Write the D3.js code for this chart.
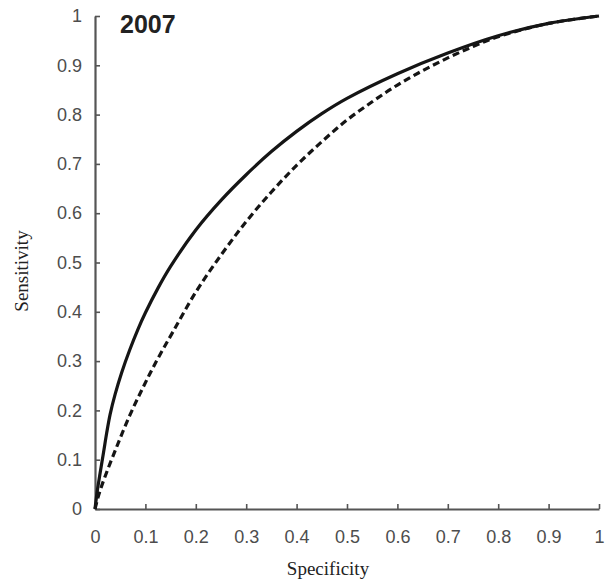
<!DOCTYPE html>
<html lang="en">
<head>
  <meta charset="UTF-8">
  <title>ROC 2007</title>
  <style>
    body { margin: 0; background: #fff; }
    .tick text { font-family: "Liberation Sans", Arial, sans-serif; font-size: 18px; fill: #4d4d4d; }
    .axis-title { font-family: "Liberation Serif", "Times New Roman", serif; font-size: 19px; fill: #222; }
  </style>
</head>
<body>
<div id="chart"></div>
<script src="https://d3js.org/d3.v7.min.js"></script>
<script>
  // tick values and labels
  var tickValues = [0, 0.1, 0.2, 0.3, 0.4, 0.5, 0.6, 0.7, 0.8, 0.9, 1];
  var tickLabels = ["0", "0.1", "0.2", "0.3", "0.4", "0.5", "0.6", "0.7", "0.8", "0.9", "1"];

  // solid curve (specificity, sensitivity)
  var solidX = [0, 0.005, 0.01, 0.017, 0.023, 0.03, 0.04, 0.053, 0.069, 0.085, 0.1, 0.125, 0.15, 0.2, 0.25, 0.3, 0.35, 0.4, 0.45, 0.5, 0.6, 0.7, 0.8, 0.9, 1];
  var solidY = [0, 0.04, 0.072, 0.115, 0.153, 0.192, 0.233, 0.277, 0.323, 0.364, 0.398, 0.448, 0.492, 0.566, 0.626, 0.678, 0.725, 0.766, 0.802, 0.833, 0.883, 0.925, 0.96, 0.985, 1];

  // dashed curve
  var dashX = [0, 0.005, 0.01, 0.02, 0.043, 0.069, 0.096, 0.122, 0.155, 0.2, 0.25, 0.3, 0.35, 0.4, 0.45, 0.5, 0.55, 0.6, 0.65, 0.7, 0.75, 0.8, 0.9, 1];
  var dashY = [0, 0.02, 0.037, 0.066, 0.126, 0.19, 0.248, 0.3, 0.36, 0.44, 0.515, 0.583, 0.643, 0.697, 0.745, 0.789, 0.826, 0.86, 0.889, 0.915, 0.938, 0.958, 0.985, 1];

  var w = 610;
  var h = 579;

  var svg = d3.select("#chart")
          .append("svg")
          .attr("width", w)
          .attr("height", h);

  var xScale = d3.scaleLinear().domain([0, 1]).range([95, 599]);
  var yScale = d3.scaleLinear().domain([0, 1]).range([509, 16]);

  var fmt = function(d, i) { return tickLabels[i]; };

  // x axis (ticks point inward)
  var xAxis = d3.axisBottom(xScale)
          .tickValues(tickValues)
          .tickFormat(fmt)
          .tickSizeInner(-5)
          .tickSizeOuter(0)
          .tickPadding(21);

  var yAxis = d3.axisLeft(yScale)
          .tickValues(tickValues)
          .tickFormat(fmt)
          .tickSizeInner(-5)
          .tickSizeOuter(0)
          .tickPadding(13);

  svg.append("g")
          .attr("transform", "translate(0, 509)")
          .call(xAxis);

  svg.append("g")
          .attr("transform", "translate(95, 0)")
          .call(yAxis);

  svg.selectAll(".domain").attr("stroke", "#555").attr("stroke-width", 2.2);
  svg.selectAll(".tick line").attr("stroke", "#555").attr("stroke-width", 1.6);

  // curves
  var line = d3.line()
          .x(d => xScale(d[0]))
          .y(d => yScale(d[1]))
          .curve(d3.curveCatmullRom.alpha(0.5));

  var solid = solidX.map((x, i) => [x, solidY[i]]);
  var dashed = dashX.map((x, i) => [x, dashY[i]]);

  svg.append("path")
          .datum(dashed)
          .attr("d", line)
          .attr("fill", "none")
          .attr("stroke", "#151515")
          .attr("stroke-width", 3.2)
          .attr("stroke-dasharray", "7,4");

  svg.append("path")
          .datum(solid)
          .attr("d", line)
          .attr("fill", "none")
          .attr("stroke", "#151515")
          .attr("stroke-width", 3.2);

  // year label
  svg.append("text")
          .attr("x", 120)
          .attr("y", 33)
          .style("font-family", "'Liberation Sans', Arial, sans-serif")
          .style("font-weight", "bold")
          .style("font-size", "25px")
          .attr("fill", "#222")
          .text("2007");

  // axis titles
  svg.append("text")
          .attr("class", "axis-title")
          .attr("x", 328)
          .attr("y", 575)
          .attr("text-anchor", "middle")
          .text("Specificity");

  svg.append("text")
          .attr("class", "axis-title")
          .attr("transform", "translate(28, 271) rotate(-90)")
          .attr("text-anchor", "middle")
          .text("Sensitivity");
</script>
</body>
</html>
